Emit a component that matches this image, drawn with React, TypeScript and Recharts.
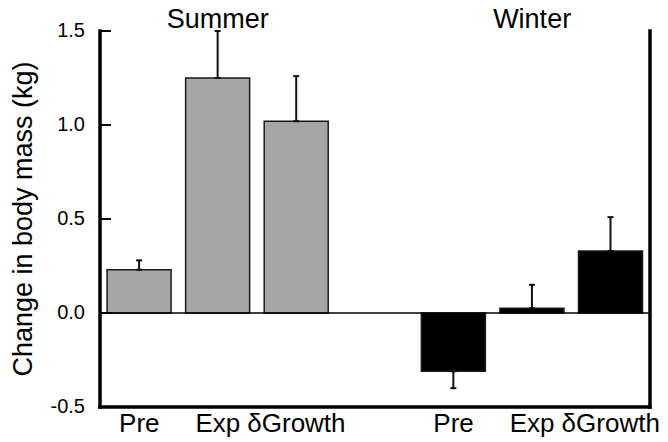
import React from 'react';
import { BarChart, Bar, Cell, XAxis, YAxis, ErrorBar, ReferenceLine } from 'recharts';

const categories = ['sPre', 'sExp', 'sGrowth', 'gap', 'wPre', 'wExp', 'wGrowth'];
const tickLabels = ['Pre', 'Exp', 'δGrowth', '', 'Pre', 'Exp', 'δGrowth'];
const seasonLabels = ['', 'Summer', '', '', '', 'Winter', ''];
const seasons = ['summer', 'summer', 'summer', null, 'winter', 'winter', 'winter'];
const massChange = [0.23, 1.25, 1.02, null, -0.31, 0.025, 0.33];
const stdError = [0.05, 0.25, 0.24, null, 0.09, 0.125, 0.18];
const yTicks = [-0.5, 0, 0.5, 1, 1.5];
const rightTicks = [0.5, 1, 1.5];

const FONT = '"Liberation Sans", Arial, sans-serif';
const TICK_GAP = 15;
const TICK_LEN = 11;

const colors: Record<string, string> = { summer: '#a6a6a6', winter: '#000000' };

const data = categories.map((id, i) => {
  const v = massChange[i];
  const e = stdError[i];
  return {
    id,
    value: v,
    // one-sided error: only away from zero
    err: v == null || e == null ? undefined : v >= 0 ? [0, e] : [e, 0],
  };
});

const LeftTick = (props: any) => {
  const { x, y, payload } = props;
  const ax = x + TICK_GAP;
  return (
    <g>
      <line x1={ax} x2={ax + TICK_LEN} y1={y} y2={y} stroke="#000" strokeWidth={2} />
      <text x={x} y={y} dy="0.3em" textAnchor="end" fontSize={20} fontFamily={FONT} fill="#000">
        {Number(payload.value).toFixed(1)}
      </text>
    </g>
  );
};

const RightTick = (props: any) => {
  const { x, y } = props;
  return <line x1={x} x2={x - TICK_LEN} y1={y} y2={y} stroke="#000" strokeWidth={2} />;
};

const YLabel = (props: any) => {
  const { x, y, height } = props.viewBox;
  const cx = x + 32;
  const cy = y + height / 2;
  return (
    <text
      x={cx}
      y={cy}
      transform={`rotate(-90 ${cx} ${cy})`}
      textAnchor="middle"
      fontSize={27}
      fontFamily={FONT}
      fill="#000"
    >
      Change in body mass (kg)
    </text>
  );
};

const axisLine = { stroke: '#000', strokeWidth: 3.5, strokeLinecap: 'square' as const };

export default function App() {
  return (
    <div style={{ position: 'absolute', left: 0, top: 0, background: '#fff' }}>
      <BarChart
        width={668}
        height={442}
        data={data}
        margin={{ top: 0, right: 0, bottom: 0, left: 0 }}
        barCategoryGap="9%"
      >
        <XAxis
          xAxisId="top"
          orientation="top"
          dataKey="id"
          height={31}
          axisLine={false}
          tickLine={false}
          tickSize={0}
          tickMargin={3}
          interval={0}
          tickFormatter={(_v: any, i: number) => seasonLabels[i]}
          tick={{ fontSize: 27, fontFamily: FONT, fill: '#000' }}
        />
        <XAxis
          dataKey="id"
          height={35}
          axisLine={axisLine}
          tickLine={false}
          tickSize={0}
          tickMargin={7}
          interval={0}
          tickFormatter={(_v: any, i: number) => tickLabels[i]}
          tick={{ fontSize: 26, fontFamily: FONT, fill: '#000' }}
        />
        <YAxis
          width={100}
          domain={[-0.5, 1.5]}
          ticks={yTicks}
          allowDataOverflow
          axisLine={axisLine}
          tickLine={false}
          tickSize={0}
          tickMargin={TICK_GAP}
          interval={0}
          tick={<LeftTick />}
          label={{ content: <YLabel /> }}
        />
        <YAxis
          yAxisId="r"
          orientation="right"
          width={18}
          domain={[-0.5, 1.5]}
          ticks={rightTicks}
          axisLine={axisLine}
          tickLine={false}
          tickSize={0}
          tickMargin={0}
          interval={0}
          tick={<RightTick />}
        />
        <ReferenceLine y={0} stroke="#000" strokeWidth={1.5} />
        <Bar dataKey="value" stroke="#1a1a1a" strokeWidth={1.5} isAnimationActive={false}>
          {data.map((d, i) => (
            <Cell key={d.id} fill={seasons[i] ? colors[seasons[i] as string] : 'none'} />
          ))}
          <ErrorBar dataKey="err" width={3} stroke="#111" strokeWidth={2} isAnimationActive={false} />
        </Bar>
      </BarChart>
    </div>
  );
}
